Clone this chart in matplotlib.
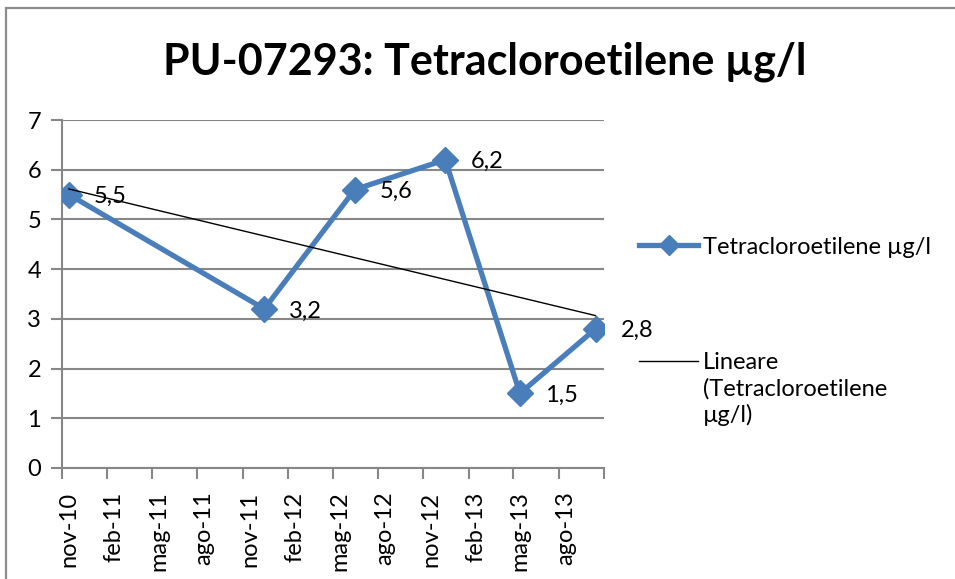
import numpy as np
import matplotlib
matplotlib.use("Agg")
import matplotlib.pyplot as plt
import matplotlib.dates as mdates
from matplotlib.lines import Line2D
from matplotlib.patches import Rectangle
import datetime as dt

plt.rcParams['font.family'] = ['Lato', 'DejaVu Sans']

# data (sample dates, values in ug/l)
dates = [dt.date(2010, 11, 15), dt.date(2011, 12, 15), dt.date(2012, 6, 15),
         dt.date(2012, 12, 15), dt.date(2013, 5, 15), dt.date(2013, 10, 15)]
values = [5.5, 3.2, 5.6, 6.2, 1.5, 2.8]
tick_months = [(2010, 11), (2011, 2), (2011, 5), (2011, 8), (2011, 11), (2012, 2),
               (2012, 5), (2012, 8), (2012, 11), (2013, 2), (2013, 5), (2013, 8)]
tick_labels = ['nov-10', 'feb-11', 'mag-11', 'ago-11', 'nov-11', 'feb-12',
               'mag-12', 'ago-12', 'nov-12', 'feb-13', 'mag-13', 'ago-13']

title = 'PU-07293: Tetracloroetilene µg/l'
series_name = 'Tetracloroetilene µg/l'
trend_name = 'Lineare\n(Tetracloroetilene\nµg/l)'

blue = '#4a7ebb'
grid_c = '#878787'
fs = 17

fig = plt.figure(figsize=(9.55, 5.79), dpi=100)
W, H = 955, 579
ax = fig.add_axes([62 / W, 1 - 468 / H, (604 - 62) / W, (468 - 120) / H])

x = mdates.date2num(dates)
ax.plot(x, values, color=blue, lw=3.8, marker='D', ms=13, zorder=3,
        label=series_name)

# linear trend (least squares on the date values)
k, b = np.polyfit(x, values, 1)
xt = np.array([x[0], x[-1]])
ax.plot(xt, k * xt + b, color='black', lw=1.0, zorder=4, label='trend')

for xi, v in zip(x, values):
    ax.annotate(f'{v:.1f}'.replace('.', ','), (xi, v), xytext=(25, -2),
                textcoords='offset pixels', ha='left', va='center',
                fontsize=fs, zorder=5)

ax.set_ylim(0, 7)
ax.set_xlim(mdates.date2num(dt.date(2010, 11, 1)), mdates.date2num(dt.date(2013, 11, 1)))

major = [mdates.date2num(dt.date(y, m, 1)) for y, m in tick_months] + \
        [mdates.date2num(dt.date(2013, 11, 1))]
minor = [mdates.date2num(dt.date(y, m, 15)) for y, m in tick_months]
ax.set_xticks(major)
ax.set_xticklabels([])
ax.set_xticks(minor, minor=True)
ax.set_xticklabels(tick_labels, minor=True, rotation=90, fontsize=fs)
ax.tick_params(axis='x', which='major', length=8, width=1.5, color=grid_c, direction='out')
ax.tick_params(axis='x', which='minor', length=0, pad=17)

ax.set_yticks(range(8))
ax.tick_params(axis='y', length=8, width=1.5, color=grid_c, labelsize=fs, pad=7)
ax.yaxis.grid(True, color=grid_c, lw=1.5)
ax.set_axisbelow(True)

for s in ['top', 'right']:
    ax.spines[s].set_visible(False)
for s in ['left', 'bottom']:
    ax.spines[s].set_color(grid_c)
    ax.spines[s].set_linewidth(1.5)

fig.text(485 / W, 1 - 62 / H, title, ha='center', va='center',
         fontsize=31, fontweight='bold')

h1 = Line2D([], [], color=blue, lw=3.8, marker='D', ms=10)
h2 = Line2D([], [], color='black', lw=1.0)
fig.legend([h1], [series_name], loc='center left',
           bbox_to_anchor=(618 / W, 1 - 247 / H), frameon=False,
           fontsize=fs, handlelength=2.5, handletextpad=0.2)
leg2 = fig.legend([h2], [trend_name], loc='upper left',
                  bbox_to_anchor=(618 / W, 1 - 331 / H), frameon=False,
                  fontsize=fs, handlelength=2.5, handletextpad=0.2)
# keep the handle next to the first line of the wrapped label
for row in leg2._legend_handle_box.get_children():
    for entry in row.get_children():
        entry.align = 'top'
for t in leg2.get_texts():
    t.set_linespacing(1.25)

# chart border (cropped at right / bottom)
fig.patches.append(Rectangle((6 / W, -0.1), 1.2, (1 - 8 / H) + 0.1,
                             transform=fig.transFigure, fill=False,
                             edgecolor='#8c8c8c', lw=1.6))

fig.savefig('out.png', dpi=100)
